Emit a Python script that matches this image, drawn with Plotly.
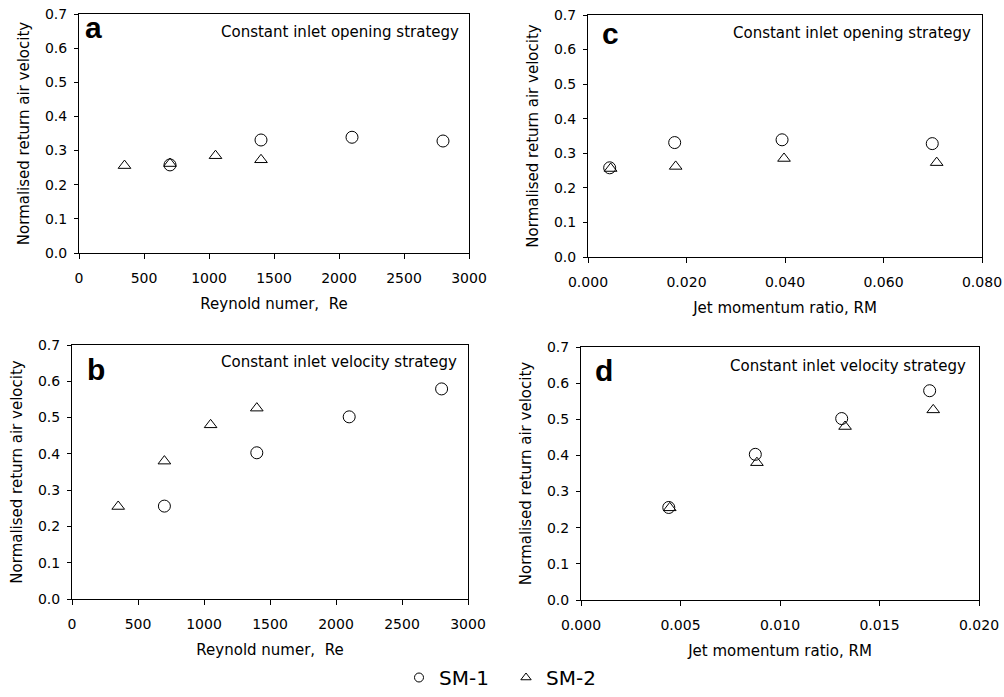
import plotly.graph_objects as go

# ---- data ----
re_sm1_open = [700, 1400, 2100, 2800]
v_sm1_open = [0.258, 0.331, 0.339, 0.328]
re_sm2_open = [350, 700, 1050, 1400]
v_sm2_open = [0.256, 0.262, 0.285, 0.273]

re_sm1_vel = [700, 1400, 2100, 2800]
v_sm1_vel = [0.256, 0.403, 0.502, 0.579]
re_sm2_vel = [350, 700, 1050, 1400]
v_sm2_vel = [0.255, 0.380, 0.480, 0.526]

rm_sm1_open = [0.0044, 0.0176, 0.0394, 0.0699]
rm_sm2_open = [0.0046, 0.0178, 0.0398, 0.0708]
rm_sm1_vel = [0.00441, 0.00876, 0.0131, 0.01752]
rm_sm2_vel = [0.00446, 0.00884, 0.01327, 0.0177]

FONT = "DejaVu Sans, sans-serif"
BOLD = "Liberation Sans, Arial, sans-serif"
circle = dict(symbol="circle-open", size=12, color="black", line=dict(width=1, color="black"))
tri = dict(symbol="triangle-up-open", size=11, color="black", line=dict(width=1, color="black"))

fig = go.Figure()
panels = [
    ("x", "y", re_sm1_open, v_sm1_open, re_sm2_open, v_sm2_open),
    ("x2", "y2", rm_sm1_open, v_sm1_open, rm_sm2_open, v_sm2_open),
    ("x3", "y3", re_sm1_vel, v_sm1_vel, re_sm2_vel, v_sm2_vel),
    ("x4", "y4", rm_sm1_vel, v_sm1_vel, rm_sm2_vel, v_sm2_vel),
]
for xa, ya, x1, y1, x2, y2 in panels:
    fig.add_trace(go.Scatter(x=x1, y=y1, mode="markers", marker=circle, name="SM-1",
                             xaxis=xa, yaxis=ya, showlegend=False))
    fig.add_trace(go.Scatter(x=x2, y=y2, mode="markers", marker=tri, name="SM-2",
                             xaxis=xa, yaxis=ya, showlegend=False))

# legend-only entries (smaller symbols as in the reference legend)
fig.add_trace(go.Scatter(x=[None], y=[None], mode="markers", name="SM-1",
                         marker=dict(symbol="circle-open", size=9, color="black",
                                     line=dict(width=1, color="black"))))
fig.add_trace(go.Scatter(x=[None], y=[None], mode="markers", name="SM-2",
                         marker=dict(symbol="triangle-up-open", size=9, color="black",
                                     line=dict(width=1, color="black"))))

W, H = 1004, 697
def dx(a, b):
    return [a / W, b / W]
def dy(top, bottom):
    return [1 - bottom / H, 1 - top / H]

common_ax = dict(showline=True, linecolor="black", linewidth=1, mirror=True, ticks="outside",
                 ticklen=5, tickcolor="black", showgrid=False, zeroline=False, automargin=False,
                 tickfont=dict(family=FONT, size=14, color="black"))

def xax(domain, anchor, rng, dtick, fmt, title):
    d = dict(common_ax)
    d.update(domain=domain, anchor=anchor, range=rng, dtick=dtick, tick0=0, tickformat=fmt,
             ticklabelstandoff=7,
             title=dict(text=title, font=dict(family=FONT, size=15, color="black"), standoff=13))
    return d

def yax(domain, anchor):
    d = dict(common_ax)
    d.update(domain=domain, anchor=anchor, range=[0, 0.7], dtick=0.1, tick0=0, tickformat=".1f",
             ticklen=4, ticklabelstandoff=4,
             title=dict(text="Normalised return air velocity",
                        font=dict(family=FONT, size=15, color="black"), standoff=11))
    return d

RE_T = "Reynold numer,\u00a0 Re"
RM_T = "Jet momentum ratio, RM"
fig.update_layout(
    width=W, height=H,
    margin=dict(l=0, r=0, t=0, b=0, autoexpand=False),
    plot_bgcolor="white", paper_bgcolor="white",
    font=dict(family=FONT, color="black"),
    xaxis=xax(dx(79, 469), "y", [0, 3000], 500, "d", RE_T),
    yaxis=yax(dy(14, 253), "x"),
    xaxis2=xax(dx(588, 982), "y2", [0, 0.08], 0.02, ".3f", RM_T),
    yaxis2=yax(dy(15, 257), "x2"),
    xaxis3=xax(dx(72, 468), "y3", [0, 3000], 500, "d", RE_T),
    yaxis3=yax(dy(345, 599), "x3"),
    xaxis4=xax(dx(581, 979), "y4", [0, 0.02], 0.005, ".3f", RM_T),
    yaxis4=yax(dy(347, 600), "x4"),
    legend=dict(orientation="h", x=399 / W, xanchor="left", y=0, yanchor="bottom",
                font=dict(family=FONT, size=20, color="black"), itemwidth=30,
                entrywidth=62, entrywidthmode="pixels",
                bgcolor="rgba(0,0,0,0)"),
)

# panel letters / strategy labels: (xaxis, yaxis, letter, text, letter x px, letter mid y px,
#   text right px, text mid y px, plot left, plot right, plot top, plot bottom)
labels = [
    ("x", "y", "a", "Constant inlet opening strategy", 83, 27, 461, 32, 79, 469, 14, 253),
    ("x2", "y2", "c", "Constant inlet opening strategy", 600, 34, 973, 33, 588, 982, 15, 257),
    ("x3", "y3", "b", "Constant inlet velocity strategy", 85, 369, 459, 362, 72, 468, 345, 599),
    ("x4", "y4", "d", "Constant inlet velocity strategy", 593, 371, 968, 366, 581, 979, 347, 600),
]
for xa, ya, letter, txt, lx, ly, tx, ty, pl, pr, pt, pb in labels:
    fig.add_annotation(xref=f"{xa} domain", yref=f"{ya} domain",
                       x=(lx - pl) / (pr - pl), y=(pb - ly) / (pb - pt),
                       xanchor="left", yanchor="middle", showarrow=False,
                       text=f"<b>{letter}</b>", font=dict(family=BOLD, size=30, color="black"))
    fig.add_annotation(xref=f"{xa} domain", yref=f"{ya} domain",
                       x=(tx - pl) / (pr - pl), y=(pb - ty) / (pb - pt),
                       xanchor="right", yanchor="middle", showarrow=False,
                       text=txt, font=dict(family=FONT, size=15, color="black"))

fig.write_html("out.html", config={"displayModeBar": False},
               post_script="document.body.style.margin='0';")
